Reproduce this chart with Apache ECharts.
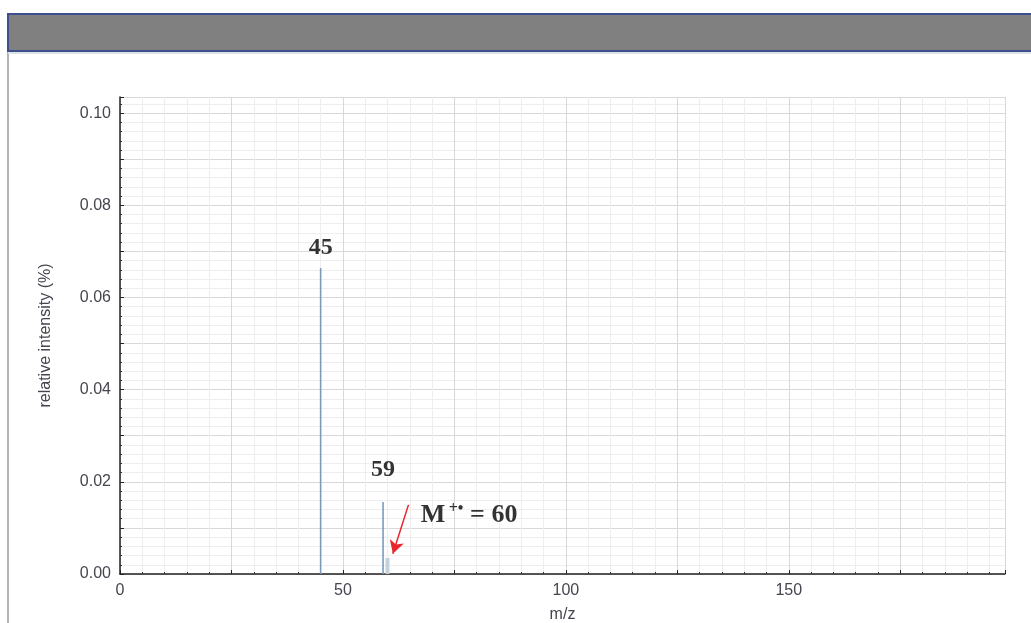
<!DOCTYPE html>
<html>
<head>
<meta charset="utf-8">
<script src="https://cdn.jsdelivr.net/npm/echarts@6/dist/echarts.min.js"></script>
<style>html,body{margin:0;padding:0;background:#fff}#c{width:1031px;height:623px}</style>
</head>
<body>
<div id="c"></div>
<script>
// ---- data ----
const mainPeakMz = [45, 59];
const mainPeakIntensity = [0.0664, 0.0156];
const isotopeMz = [60];
const isotopeIntensity = [0.0035];
const peakLabels = ['45', '59'];
const peakLabelMz = [45, 59];
const peakLabelY = [0.0707, 0.0226];
const molIonText = 'M +• = 60';
const molIonLabelPos = [78.3, 0.0127];
const arrowFrom = [64.7, 0.0150];
const arrowTo = [61.2, 0.0044];
const xTickLabels = [0, 50, 100, 150];
const yTickLabels = [0.00, 0.02, 0.04, 0.06, 0.08, 0.10];

const chart = echarts.init(document.getElementById('c'));
const axisFont = {fontFamily: 'Liberation Sans, Arial, sans-serif', fontSize: 16, color: '#45454f'};
const near = (v, arr, eps) => arr.some(a => Math.abs(a - v) < eps);
const serif = 'Liberation Serif, Times New Roman, serif';

function stickRender(width, color) {
  return function (params, api) {
    const top = api.coord([api.value(0), api.value(1)]);
    const base = api.coord([api.value(0), 0]);
    return {
      type: 'rect',
      shape: {x: top[0] - width / 2, y: top[1], width: width, height: base[1] - top[1]},
      style: {fill: color}
    };
  };
}

chart.setOption({
  backgroundColor: '#fff',
  animation: false,
  grid: {left: 120, right: 26, top: 97, bottom: 49, containLabel: false, outerBoundsMode: 'none'},
  xAxis: {
    type: 'value', min: 0, max: 198.5, interval: 25,
    name: 'm/z', nameLocation: 'middle', nameGap: 33,
    nameTextStyle: {fontFamily: axisFont.fontFamily, fontSize: 16, color: '#45454f'},
    axisLine: {show: true, onZero: false, lineStyle: {color: '#222', width: 1.5}},
    axisTick: {show: true, inside: true, length: 4, lineStyle: {color: '#222'}},
    minorTick: {show: true, splitNumber: 5, length: 2, lineStyle: {color: '#333'}},
    axisLabel: Object.assign({margin: 9, showMaxLabel: false,
      formatter: v => near(v, xTickLabels, 1e-6) ? String(v) : ''}, axisFont),
    splitLine: {show: true, lineStyle: {color: '#d8d8d8', width: 1}},
    minorSplitLine: {show: true, lineStyle: {color: '#eeeeee', width: 1}}
  },
  yAxis: {
    type: 'value', min: 0, max: 0.1035, interval: 0.01,
    name: 'relative intensity (%)', nameLocation: 'middle', nameGap: 66, nameRotate: 90,
    nameTextStyle: {fontFamily: axisFont.fontFamily, fontSize: 16, color: '#45454f'},
    axisLine: {show: true, lineStyle: {color: '#222', width: 1.5}},
    axisTick: {show: true, inside: true, length: 4, lineStyle: {color: '#222'}},
    minorTick: {show: true, splitNumber: 5, length: 2, lineStyle: {color: '#333'}},
    axisLabel: Object.assign({margin: 9, showMaxLabel: false,
      formatter: v => near(v, yTickLabels, 1e-7) ? v.toFixed(2) : ''}, axisFont),
    splitLine: {show: true, lineStyle: {color: '#d8d8d8', width: 1}},
    minorSplitLine: {show: true, lineStyle: {color: '#eeeeee', width: 1}}
  },
  graphic: [
    {type: 'line', shape: {x1: 8, y1: 50, x2: 8, y2: 623}, style: {stroke: '#9a9a9a', lineWidth: 1.5}, z: 100},
    {type: 'rect', shape: {x: 8, y: 14, width: 1040, height: 37},
     style: {fill: '#808080', stroke: '#3d4f8e', lineWidth: 2}, z: 100},
    {type: 'line', shape: {x1: 8, y1: 53, x2: 1031, y2: 53}, style: {stroke: '#dde3e3', lineWidth: 2}, z: 100}
  ],
  series: [
    {
      type: 'custom', name: 'peaks', renderItem: stickRender(1.6, '#7c9bbd'),
      data: mainPeakMz.map((m, i) => [m, mainPeakIntensity[i]]), z: 5
    },
    {
      type: 'custom', name: 'isotope', renderItem: stickRender(4, '#c3d2de'),
      data: isotopeMz.map((m, i) => [m, isotopeIntensity[i]]), z: 4
    },
    {
      type: 'scatter', symbolSize: 0, silent: true, z: 10,
      data: peakLabels.map((t, i) => ({name: t, value: [peakLabelMz[i], peakLabelY[i]]})),
      label: {show: true, position: 'inside', formatter: p => p.name,
        fontFamily: serif, fontWeight: 'bold', fontSize: 24, color: '#000', textBorderWidth: 0}
    },
    {
      type: 'scatter', symbolSize: 0, silent: true, z: 10,
      data: [{name: molIonText, value: molIonLabelPos}],
      label: {show: true, position: 'inside', textBorderWidth: 0, color: '#000',
        formatter: '{m|M} {s|+•}  {e|= 60}',
        rich: {
          m: {fontFamily: serif, fontWeight: 'bold', fontSize: 26, color: '#000', textBorderWidth: 0},
          s: {fontFamily: serif, fontWeight: 'bold', fontSize: 16, color: '#000', textBorderWidth: 0, verticalAlign: 'top', padding: [0, 0, 14, 0]},
          e: {fontFamily: serif, fontWeight: 'bold', fontSize: 26, color: '#000', textBorderWidth: 0}
        }
      },
      markLine: {
        silent: true, symbol: ['none', 'arrow'], symbolSize: [11, 13],
        lineStyle: {color: '#e8262b', width: 1.5, type: 'solid'},
        label: {show: false},
        data: [[{coord: arrowFrom}, {coord: arrowTo}]]
      }
    }
  ]
});
</script>
</body>
</html>
